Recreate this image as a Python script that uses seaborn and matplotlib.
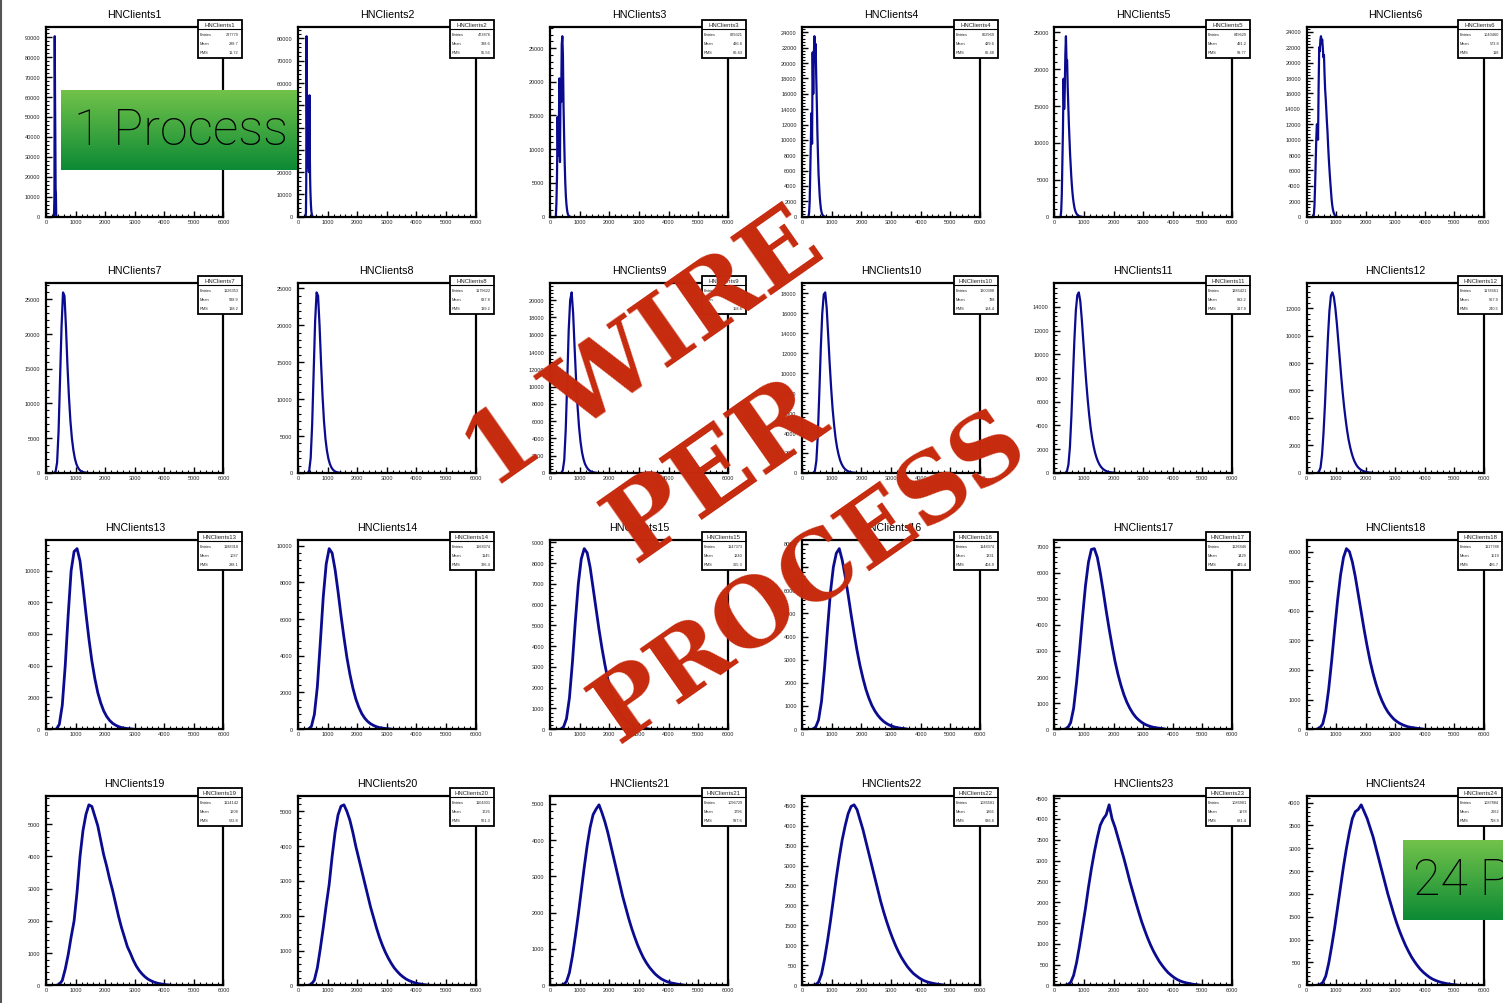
import numpy as np
import pandas as pd
import matplotlib
matplotlib.use("Agg")
import matplotlib.pyplot as plt
import seaborn as sns
from matplotlib.patches import Rectangle
from matplotlib.lines import Line2D
from matplotlib.ticker import MultipleLocator
from matplotlib.transforms import Bbox, TransformedBbox

# ---------------------------------------------------------------- data
hist_names = [f"HNClients{i}" for i in range(1, 25)]

# low edge of first bin and bin width for each histogram
bin_start = [260, 250, 180, 200, 200, 220,
             250, 300, 350, 350, 350, 350,
             300, 300, 300, 300, 300, 300,
             300, 300, 300, 300, 300, 300]
bin_width = [10, 10, 20, 20, 20, 20,
             50, 50, 50, 50, 50, 50,
             100, 100, 100, 100, 100, 100,
             100, 100, 100, 100, 100, 100]

counts_01 = [0, 3000, 11000, 90500, 62000, 40000, 14000, 11500, 800, 0]
counts_02 = [0, 2000, 15000, 81000, 60000, 35000, 28000, 22000, 26000, 30000,
             24000, 20000, 28000, 54500, 30000, 18000, 12000, 8000, 5000, 3000,
             1800, 1000, 500, 200, 0]
counts_03 = [0, 2000, 6000, 14800, 9000, 12000, 20500, 8100, 20000, 17000,
             25500, 26750, 24000, 16600, 12000, 8000, 5000, 3000, 1800, 1000,
             500, 250, 100, 40, 10, 0]
counts_04 = [0, 500, 2000, 6000, 10000, 13500, 9500, 21400, 16000, 21000,
             23500, 21000, 22500, 18400, 15000, 11000, 8000, 5500, 4000, 2600,
             1700, 1000, 600, 350, 200, 100, 50, 20, 0]
counts_05 = [0, 800, 3000, 7500, 12000, 18700, 14600, 17000, 22000, 24460,
             21000, 21200, 17500, 15000, 12500, 10500, 8500, 7000, 5500, 4300,
             3300, 2500, 1900, 1400, 1000, 750, 550, 400, 280, 200,
             140, 90, 60, 40, 20, 10, 0]
counts_06 = [0, 300, 1500, 4000, 7000, 10000, 12000, 11800, 10000, 17000,
             22000, 21500, 23000, 23430, 22500, 23000, 22000, 20700, 21000, 18500,
             16500, 15300, 13800, 12300, 11000, 9300, 7800, 6500, 5300, 4200,
             3200, 2200, 1500, 1000, 650, 400, 250, 150, 80, 40, 0]
counts_07 = [0, 200, 1500, 6000, 13500, 21000, 26000, 25500, 21000, 15500,
             11000, 7500, 5000, 3300, 2100, 1300, 800, 480, 280, 160, 90, 50, 20, 0]
counts_08 = [0, 300, 2000, 6500, 13500, 20500, 24460, 24000, 20000, 15000,
             10500, 7000, 4600, 3000, 1900, 1200, 750, 450, 260, 150, 80, 40, 15, 0]
counts_09 = [0, 300, 1500, 5000, 10500, 16500, 20000, 20900, 18500, 14500,
             10800, 7700, 5300, 3600, 2400, 1600, 1050, 700, 450, 290,
             180, 110, 60, 30, 0]
counts_10 = [0, 200, 1200, 3800, 8000, 12500, 16000, 17900, 18100, 16500,
             13800, 11000, 8500, 6400, 4800, 3500, 2550, 1850, 1300, 920,
             640, 440, 300, 200, 130, 80, 50, 30, 15, 0]
counts_11 = [0, 150, 700, 2200, 4800, 8000, 11200, 13700, 15000, 15230,
             14500, 13000, 11200, 9400, 7700, 6200, 4900, 3800, 2950, 2250,
             1700, 1280, 950, 700, 510, 370, 270, 190, 130, 90, 60, 40, 25, 15, 0]
counts_12 = [0, 100, 400, 1300, 2900, 5000, 7500, 9900, 11800, 12900,
             13140, 12800, 12000, 10900, 9600, 8300, 7000, 5800, 4750, 3850,
             3050, 2400, 1880, 1450, 1100, 830, 620, 460, 340, 250,
             180, 130, 90, 60, 40, 25, 15, 0]
counts_13 = [0, 300, 1500, 4000, 7200, 10000, 11200, 11380, 10600, 9000,
             7300, 5700, 4300, 3200, 2300, 1650, 1150, 800, 550, 370,
             250, 160, 100, 60, 35, 20, 0]
counts_14 = [0, 150, 800, 2300, 4700, 7200, 9000, 9840, 9600, 8700,
             7500, 6200, 5000, 3900, 3000, 2250, 1650, 1200, 850, 600,
             420, 290, 200, 130, 85, 55, 35, 20, 0]
counts_15 = [0, 100, 500, 1500, 3200, 5200, 7000, 8200, 8700, 8500,
             7800, 6800, 5800, 4800, 3900, 3100, 2400, 1850, 1400, 1050,
             780, 570, 410, 290, 200, 140, 95, 65, 40, 25, 0]
counts_16 = [0, 80, 400, 1200, 2600, 4300, 5900, 7000, 7600, 7800,
             7300, 6600, 5800, 4950, 4150, 3400, 2750, 2200, 1720, 1340,
             1030, 790, 600, 450, 330, 240, 170, 120, 80, 55, 35, 20, 0]
counts_17 = [0, 50, 250, 800, 1800, 3000, 4300, 5500, 6400, 6900,
             6930, 6600, 6000, 5300, 4550, 3850, 3200, 2600, 2100, 1680,
             1320, 1030, 800, 610, 460, 350, 260, 190, 140, 100,
             70, 50, 35, 20, 0]
counts_18 = [0, 40, 180, 600, 1350, 2300, 3350, 4350, 5200, 5800,
             6100, 6000, 5650, 5150, 4550, 3950, 3350, 2800, 2300, 1880,
             1520, 1210, 960, 750, 580, 450, 340, 260, 195, 145,
             105, 75, 55, 40, 25, 15, 0]
counts_19 = [0, 30, 150, 500, 950, 1500, 2000, 2900, 4000, 4800,
             5300, 5600, 5550, 5250, 4950, 4500, 4050, 3700, 3300, 2950,
             2550, 2150, 1800, 1500, 1200, 1000, 780, 600, 460, 350,
             260, 190, 140, 100, 70, 50, 35, 20, 10, 0]
counts_20 = [0, 30, 150, 500, 1050, 1650, 2300, 2900, 3700, 4400,
             4900, 5150, 5190, 5000, 4750, 4400, 4000, 3650, 3300, 2950,
             2600, 2250, 1950, 1650, 1380, 1150, 950, 780, 630, 500,
             400, 310, 240, 180, 135, 100, 70, 50, 35, 20, 10, 0]
counts_21 = [0, 20, 100, 350, 800, 1350, 1950, 2600, 3250, 3850,
             4350, 4700, 4850, 4970, 4750, 4500, 4200, 3850, 3500, 3150,
             2800, 2450, 2150, 1850, 1580, 1340, 1120, 930, 760, 620,
             500, 400, 310, 240, 180, 135, 100, 75, 55, 40, 25, 15, 0]
counts_22 = [0, 15, 80, 280, 650, 1100, 1600, 2150, 2700, 3200,
             3650, 4000, 4300, 4480, 4520, 4400, 4150, 3900, 3600, 3300,
             3000, 2700, 2400, 2100, 1840, 1600, 1380, 1180, 1000, 840,
             700, 580, 470, 380, 300, 240, 185, 140, 105, 80,
             60, 45, 30, 20, 10, 0]
counts_23 = [0, 15, 70, 240, 550, 950, 1400, 1850, 2350, 2800,
             3200, 3550, 3850, 4000, 4100, 4340, 4000, 3800, 3550, 3300,
             3050, 2780, 2500, 2250, 2000, 1760, 1530, 1330, 1140, 970,
             820, 690, 570, 470, 380, 300, 240, 185, 140, 105,
             80, 60, 45, 30, 20, 10, 0]
counts_24 = [0, 15, 60, 200, 480, 850, 1250, 1700, 2150, 2600,
             3000, 3350, 3650, 3800, 3850, 3950, 3800, 3650, 3450, 3250,
             3000, 2750, 2500, 2250, 2000, 1780, 1560, 1360, 1180, 1020,
             870, 740, 620, 520, 430, 350, 285, 230, 180, 140,
             110, 85, 65, 50, 35, 25, 15, 10, 0]

all_counts = [counts_01, counts_02, counts_03, counts_04, counts_05, counts_06,
              counts_07, counts_08, counts_09, counts_10, counts_11, counts_12,
              counts_13, counts_14, counts_15, counts_16, counts_17, counts_18,
              counts_19, counts_20, counts_21, counts_22, counts_23, counts_24]

# y-axis label spacing of each pad
y_step = [10000, 10000, 5000, 2000, 5000, 2000,
          5000, 5000, 2000, 2000, 2000, 2000,
          2000, 2000, 1000, 1000, 1000, 1000,
          1000, 1000, 1000, 500, 500, 500]

# statistics box contents
stat_entries = ["237779", "473876", "629321", "802969", "849629", "1040460",
                "1126353", "1179622", "1230335", "1300398", "1286421", "1178661",
                "1188318", "1168374", "1147373", "1148374", "1126946", "1117788",
                "1114142", "1104931", "1096729", "1086581", "1086981", "1087884"]
stat_mean = ["288.7", "338.6", "436.6", "429.6", "491.2", "573.8",
             "588.9", "637.8", "705.3", "788", "892.2", "967.9",
             "1037", "1145", "1240", "1331", "1429", "1519",
             "1608", "1726", "1796", "1865", "1978", "2062"]
stat_rms = ["11.72", "55.56", "66.63", "86.48", "99.77", "118",
            "138.2", "139.2", "158.6", "184.4", "217.9", "240.5",
            "288.1", "326.4", "365.3", "404.9", "445.4", "486.7",
            "522.8", "561.3", "597.6", "636.6", "681.4", "718.9"]

x_ticks = [0, 1000, 2000, 3000, 4000, 5000, 6000]

# ---------------------------------------------------------------- style
sns.set_theme(style="white")
plt.rcParams["font.family"] = ["Liberation Sans", "DejaVu Sans"]

LINE = "#0b0b90"
STAMP = "#c62a0d"

W, H = 1503, 1004
fig = plt.figure(figsize=(W / 100, H / 100), dpi=100)
fig.patch.set_facecolor("white")


def fx(x):
    return x / W


def fy(y):
    return 1 - y / H


PAD_W, PAD_H = 177.5, 189.5

for i in range(24):
    r, c = divmod(i, 6)
    left = 46 + 252.1 * c
    top = 28.2 + 256.2 * r
    ax = fig.add_axes([fx(left), fy(top + PAD_H), PAD_W / W, PAD_H / H])
    ax.set_facecolor("white")

    counts = np.asarray(all_counts[i], dtype=float)
    n = len(counts)
    lo = bin_start[i]
    hi = bin_start[i] + bin_width[i] * n
    centers = lo + bin_width[i] * (np.arange(n) + 0.5)
    df = pd.DataFrame({"value": centers, "entries": counts})
    sns.histplot(data=df, x="value", weights="entries",
                 binwidth=bin_width[i], binrange=(lo, hi),
                 element="poly", fill=False, color=LINE,
                 linewidth=1.6 if r < 2 else 2.0, ax=ax)

    ymax = 1.05 * counts.max()
    ax.set_xlim(0, 6000)
    ax.set_ylim(0, ymax)
    ax.set_xlabel("")
    ax.set_ylabel("")

    for sp in ax.spines.values():
        sp.set_visible(True)
        sp.set_color("black")
        sp.set_linewidth(1.6)
        sp.set_zorder(5)

    ax.set_xticks(x_ticks)
    ax.set_xticklabels([str(v) for v in x_ticks], fontsize=4)
    ax.xaxis.set_minor_locator(MultipleLocator(200))
    yt = np.arange(0, ymax, y_step[i])
    ax.set_yticks(yt)
    ax.set_yticklabels([])
    ax.yaxis.set_minor_locator(MultipleLocator(y_step[i] / 5))
    ax.tick_params(which="major", direction="in", length=4, width=1.0,
                   color="black", bottom=True, left=True, top=False,
                   right=False, pad=1.5)
    ax.tick_params(which="minor", direction="in", length=2, width=0.8,
                   color="black", bottom=True, left=True, top=False,
                   right=False)

    # y labels, cut at the left edge of the pad
    clip = TransformedBbox(Bbox([[fx(left - 21.5), fy(top + PAD_H + 20)],
                                 [fx(left), fy(top - 20)]]), fig.transFigure)
    for v in yt:
        t = ax.text(-0.032, v, f"{int(v)}", transform=ax.get_yaxis_transform(),
                    ha="right", va="center", fontsize=4, color="#222222")
        t.set_clip_box(clip)
        t.set_clip_on(True)

    # pad title
    fig.text(fx(left + PAD_W / 2), fy(top - 13), hist_names[i],
             ha="center", va="center", fontsize=7.7, color="black")

    # statistics box
    bl, br = left + PAD_W - 26, left + PAD_W + 18
    bt, bb = top - 7.5, top + 30.5
    fig.add_artist(Rectangle((fx(bl), fy(bb)), (br - bl) / W, (bb - bt) / H,
                             transform=fig.transFigure, facecolor="white",
                             edgecolor="black", linewidth=1.3, zorder=2))
    fig.add_artist(Line2D([fx(bl), fx(br)], [fy(bt + 9), fy(bt + 9)],
                          transform=fig.transFigure, color="black",
                          linewidth=0.8, zorder=3))
    fig.text(fx((bl + br) / 2), fy(bt + 4.7), hist_names[i], ha="center",
             va="center", fontsize=4.3, zorder=3)
    for k, (lab, val) in enumerate(zip(["Entries", "Mean", "RMS"],
                                       [stat_entries[i], stat_mean[i], stat_rms[i]])):
        yy = bt + 14 + 9 * k
        fig.text(fx(bl + 2), fy(yy), lab, ha="left", va="center",
                 fontsize=2.8, zorder=3)
        fig.text(fx(br - 3), fy(yy), val, ha="right", va="center",
                 fontsize=2.8, zorder=3)

# slide edge on the left
fig.add_artist(Line2D([fx(1), fx(1)], [0, 1], transform=fig.transFigure,
                      color="#555555", linewidth=1.5, zorder=4))

# green labels
grad = np.linspace(0, 1, 256)[:, None]
green = matplotlib.colors.LinearSegmentedColormap.from_list(
    "slide_green", ["#72c24a", "#0c8a35"])


def green_label(x0, y0, x1, y1, text, tx):
    gax = fig.add_axes([fx(x0), fy(y1), (x1 - x0) / W, (y1 - y0) / H])
    gax.imshow(grad, aspect="auto", cmap=green, extent=(0, 1, 0, 1))
    gax.set_axis_off()
    gax.set_zorder(6)
    gax.text((tx - x0) / (x1 - x0), 0.5, text, transform=gax.transAxes,
             ha="left", va="center", fontsize=36, color="black",
             family=["Roboto", "DejaVu Sans"], fontweight="light", clip_on=False)


green_label(61, 91, 297, 171, "1 Process", 74)
green_label(1403, 841, 1520, 921, "24 Processes", 1413)

# stamp
stamp_font = dict(family=["DejaVu Serif"], fontweight="bold",
                  color=STAMP, rotation=35, rotation_mode="anchor",
                  ha="center", va="center", zorder=20)
fig.text(fx(645), fy(352), "1 WIRE", fontsize=70, **stamp_font)
fig.text(fx(716), fy(472), "PER", fontsize=74, **stamp_font)
fig.text(fx(810), fy(578), "PROCESS", fontsize=67, **stamp_font)

fig.savefig("out.png", dpi=100, facecolor="white")
